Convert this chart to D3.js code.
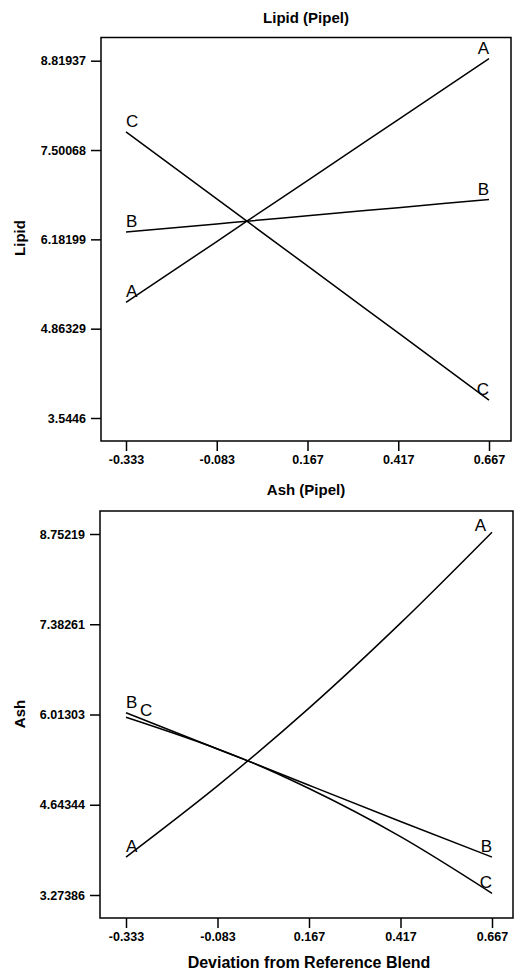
<!DOCTYPE html>
<html>
<head>
<meta charset="utf-8">
<title>Lipid / Ash (Pipel)</title>
<script src="https://d3js.org/d3.v7.min.js"></script>
<style>
  body { margin: 0; background: #fff; }
  svg { display: block; font-family: "Liberation Sans", Arial, Helvetica, sans-serif; }
  .tick text { font-weight: bold; fill: #000; }
  .tick line { stroke: #000; stroke-width: 1.5; }
  .frame { fill: none; stroke: #000; stroke-width: 1.5; }
  .curve { fill: none; stroke: #000; stroke-width: 1.5; }
  .lab { font-size: 17px; fill: #000; }
  .title { font-weight: bold; font-size: 15px; }
</style>
</head>
<body>
<svg width="515" height="973"></svg>
<script>
// x positions (deviation from reference blend) where values were read
var xValues = [-0.333, -0.083, 0, 0.167, 0.417, 0.667];
var xTicks = [-0.333, -0.083, 0.167, 0.417, 0.667];

var lipidTicks = [3.5446, 4.86329, 6.18199, 7.50068, 8.81937];
var lipidA = [5.25, 6.15, 6.45, 7.05, 7.95, 8.85];
var lipidB = [6.29, 6.41, 6.45, 6.53, 6.65, 6.77];
var lipidC = [7.77, 6.78, 6.45, 5.79, 4.80, 3.81];

var ashTicks = [3.27386, 4.64344, 6.01303, 7.38261, 8.75219];
var ashA = [3.85, 4.93, 5.31, 6.11, 7.40, 8.78];
var ashB = [6.04, 5.49, 5.31, 4.94, 4.39, 3.85];
var ashC = [5.97, 5.49, 5.31, 4.89, 4.16, 3.30];

var svg = d3.select("svg");

var panels = [
  { title: "Lipid (Pipel)", ylab: "Lipid", ticks: lipidTicks,
    series: [["A", lipidA], ["B", lipidB], ["C", lipidC]],
    frame: [101, 37.5, 511, 441], xr: [126, 489], yr: [418, 60.7],
    titleY: 23, ylabY: 238,
    off: {} },
  { title: "Ash (Pipel)", ylab: "Ash", ticks: ashTicks,
    series: [["A", ashA], ["B", ashB], ["C", ashC]],
    frame: [100, 511, 513, 918], xr: [126, 492], yr: [895, 534],
    titleY: 495, ylabY: 714,
    off: { "A1": [-6, 4], "C0": [14, 4] } }
];

panels.forEach(function(p) {
  var f = p.frame;
  var x = d3.scaleLinear().domain([xTicks[0], xTicks[xTicks.length - 1]]).range(p.xr);
  var y = d3.scaleLinear().domain([p.ticks[0], p.ticks[p.ticks.length - 1]]).range(p.yr);
  var g = svg.append("g");

  g.append("rect").attr("class", "frame")
    .attr("x", f[0]).attr("y", f[1])
    .attr("width", f[2] - f[0]).attr("height", f[3] - f[1]);

  var ya = g.append("g").attr("transform", "translate(" + f[0] + ",0)")
    .call(d3.axisLeft(y).tickValues(p.ticks).tickFormat(String).tickSize(10).tickPadding(5));
  ya.select(".domain").remove();
  ya.selectAll("text").style("font-size", "12.5px");

  var xa = g.append("g").attr("transform", "translate(0," + f[3] + ")")
    .call(d3.axisBottom(x).tickValues(xTicks).tickFormat(String).tickSize(10).tickPadding(4));
  xa.select(".domain").remove();
  xa.selectAll("text").style("font-size", "12.5px");

  g.append("text").attr("class", "title")
    .attr("x", 306).attr("y", p.titleY).attr("text-anchor", "middle")
    .text(p.title);

  g.append("text").attr("class", "title")
    .attr("transform", "translate(25," + p.ylabY + ") rotate(-90)")
    .attr("text-anchor", "middle")
    .text(p.ylab);

  var line = d3.line()
    .x(function(d, i) { return x(xValues[i]); })
    .y(function(d) { return y(d); })
    .curve(d3.curveMonotoneX);

  p.series.forEach(function(s) {
    var name = s[0], vals = s[1];
    g.append("path").attr("class", "curve").attr("d", line(vals));
    [0, vals.length - 1].forEach(function(i, k) {
      var o = p.off[name + k] || [0, 0];
      g.append("text").attr("class", "lab")
        .attr("x", x(xValues[i]) + o[0])
        .attr("y", y(vals[i]) - 5 + o[1])
        .attr("text-anchor", k === 0 ? "start" : "end")
        .text(name);
    });
  });
});

svg.append("text").attr("class", "title")
  .attr("x", 309).attr("y", 968).attr("text-anchor", "middle")
  .style("font-size", "16px")
  .text("Deviation from Reference Blend");
</script>
</body>
</html>
